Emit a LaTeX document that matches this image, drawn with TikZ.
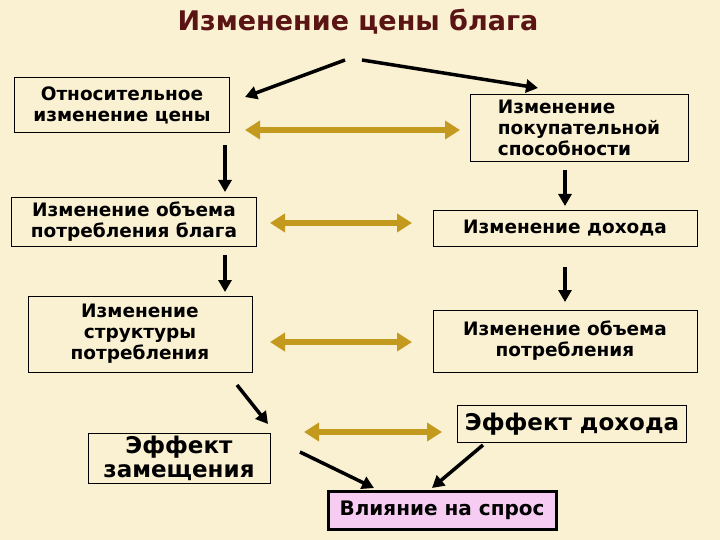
\documentclass[tikz,border=0pt]{standalone}
\usepackage{fontspec}
\setmainfont{DejaVu Sans}
\usetikzlibrary{arrows.meta}
\definecolor{bgbeige}{HTML}{FAF0D2}
\definecolor{arrgold}{HTML}{C49A1E}
\definecolor{pinkbox}{HTML}{F7CCF2}
\definecolor{titlered}{HTML}{5A1414}
\tikzset{
  box/.style={draw=black,fill=bgbeige,thin,align=center,inner sep=2pt,font=\bfseries\fontsize{18.5}{21}\selectfont},
  blk/.style={line width=3.5pt,-{Triangle[width=13pt,length=12pt]}},
  gold/.style={line width=6pt,arrgold,{Triangle[width=18pt,length=15pt]}-{Triangle[width=18pt,length=15pt]}}
}
\begin{document}
\begin{tikzpicture}[x=1pt,y=-1pt]
\fill[bgbeige] (0,0) rectangle (720,540);
\useasboundingbox (0,0) rectangle (720,540);
		\node[text=titlered] (T) at (358,22) {\bfseries\fontsize{27}{30}\selectfont Изменение цены блага};
		\coordinate (Ta) at (345,60);
		\coordinate (Tb) at (362,60);
		\node[box,minimum width=215,minimum height=55] (A) at (122,105) {Относительное\\изменение цены};
		\node[box,minimum width=218,minimum height=67,align=left] (B) at (579,128) {Изменение\\покупательной\\способности};
		\node[box,minimum width=245,minimum height=49] (C) at (134,222) {Изменение объема\\потребления блага};
		\node[box,minimum width=264,minimum height=36] (D) at (565,228) {Изменение дохода};
		\node[box,minimum width=224,minimum height=76] (E) at (140,334) {Изменение\\структуры\\потребления};
		\node[box,minimum width=264,minimum height=62] (F) at (565,341) {Изменение объема\\потребления};
		\node[box,minimum width=182,minimum height=50,font=\bfseries\fontsize{23}{24}\selectfont] (G) at (179,458) {Эффект\\замещения};
		\node[box,minimum width=229,minimum height=37,font=\bfseries\fontsize{23}{24}\selectfont] (H) at (572,424) {Эффект дохода};
		\node[box,fill=pinkbox,line width=3pt,minimum width=228,minimum height=38,font=\bfseries\fontsize{20}{22}\selectfont] (I) at (442,510) {Влияние на спрос};
		% free ends of the connectors
		\coordinate (a1) at (245,97);
		\coordinate (b1) at (538,88);
		\coordinate (ac) at (225,145);
		\coordinate (ca) at (225,192);
		\coordinate (ce) at (225,255);
		\coordinate (ec) at (225,292);
		\coordinate (bd) at (565,170);
		\coordinate (db) at (565,206);
		\coordinate (df) at (565,267);
		\coordinate (fd) at (565,302);
		\coordinate (eg) at (237,385);
		\coordinate (ge) at (268,424);
		\coordinate (gi) at (300,452);
		\coordinate (ig) at (374,488);
		\coordinate (hi) at (483,445);
		\coordinate (ih) at (432,488);
		% arrows
		\draw[blk] (Ta) -- (a1);
		\draw[blk] (Tb) -- (b1);
		\draw[blk] (ac) -- (ca);
		\draw[blk] (ce) -- (ec);
		\draw[blk] (bd) -- (db);
		\draw[blk] (df) -- (fd);
		\draw[blk] (eg) -- (ge);
		\draw[blk] (gi) -- (ig);
		\draw[blk] (hi) -- (ih);
		\draw[gold] (245,130) -- (460,130);
		\draw[gold] (270,223) -- (412,223);
		\draw[gold] (270,342) -- (412,342);
		\draw[gold] (304,432) -- (442,432);
\end{tikzpicture}
\end{document}
